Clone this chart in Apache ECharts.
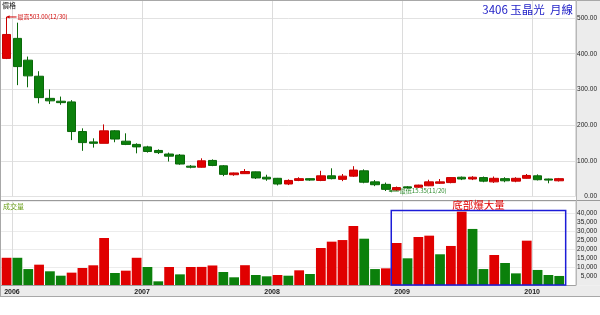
<!DOCTYPE html>
<html><head><meta charset="utf-8">
<script src="https://cdn.jsdelivr.net/npm/echarts@6/dist/echarts.min.js"></script>
<style>html,body{margin:0;padding:0;background:#fff}#c{width:600px;height:315px}</style>
</head><body><div id="c"></div>
<script>
// ---- data (monthly, Dec 2005 .. Mar 2010) ----
const months = ['2005/12',
  '2006/01','2006/02','2006/03','2006/04','2006/05','2006/06','2006/07','2006/08','2006/09','2006/10','2006/11','2006/12',
  '2007/01','2007/02','2007/03','2007/04','2007/05','2007/06','2007/07','2007/08','2007/09','2007/10','2007/11','2007/12',
  '2008/01','2008/02','2008/03','2008/04','2008/05','2008/06','2008/07','2008/08','2008/09','2008/10','2008/11','2008/12',
  '2009/01','2009/02','2009/03','2009/04','2009/05','2009/06','2009/07','2009/08','2009/09','2009/10','2009/11','2009/12',
  '2010/01','2010/02','2010/03'];
const emptySlots = ['2010/04'];
const openP  = [387,443,382,337,275,267,265,182,153,149,184,155,146,139,129,119,116,85,82,101,86,61,64,69,54,51,35,45,50,45,58,48,57,72,41,34,18,27,26,30,37,39,54,49,53,41,50,43,51,58,49,44];
const closeP = [454,364,338,277,268,263,182,151,149,184,161,146,139,126,123,113,91,82,100,87,62,66,70,52,49,35,45,50,46,58,50,57,74,40,33,20,25,24,32,41,41,53,49,54,43,51,44,51,59,47,46,50];
const lowP   = [385,312,306,261,259,257,158,128,137,149,152,144,121,123,119,98,89,79,81,85,57,58,63,49,44,31,32,43,44,43,48,43,55,37,29,15.35,15.4,22,24,29,35,37,46,46,40,38,40,40,50,45,37,42];
const highP  = [503,487,392,351,300,280,270,191,163,202,186,177,149,142,132,123,119,88,107,104,88,67,77,70,61,52,48,54,51,72,79,63,85,76,46,39,28,29,33,47,49,54,56,57,56,56,54,54,63,62,50,52];
const volumes = [15200,15200,8900,11350,7650,5200,6900,9500,11000,26250,6700,8000,15200,10050,2050,10050,5950,10050,10100,10900,7250,4300,11050,5600,4850,5600,5200,8200,6150,20650,24200,25100,32950,25850,8900,9300,23450,14900,26800,27550,17150,21800,40950,31300,8900,16750,12300,6500,24750,8400,5600,5050];
const volUp = [1,0,0,1,0,0,1,1,1,1,0,1,1,0,0,1,0,1,1,1,0,0,1,0,0,1,0,1,0,1,1,1,1,0,0,1,1,0,1,1,0,1,1,0,0,1,0,0,1,0,0,0];
const priceTicks = [0,100,200,300,400,500];
const volTicks = [5000,10000,15000,20000,25000,30000,35000,40000];
const titleText = '3406 玉晶光  月線';
const priceLabel = '價格';
const volLabel = '成交量';
const highNote = { idx: 0, value: 503, text: '最高503.00(12/30)' };
const lowNote  = { idx: 35, value: 15.35, text: '最低15.35(11/20)' };
const boxNote  = { from: 36, to: 51, top: 41600, text: '底部爆大量' };

// ---- chart ----
const RED = '#e00000', GREEN = '#0b800b';
const FONT = '"Noto Sans CJK TC", "Liberation Sans", sans-serif';
const axisCats = months.concat(emptySlots);
const candleData = months.map((m, i) => [openP[i], closeP[i], lowP[i], highP[i]]);
const volData = volumes.map((v, i) => ({ value: v, itemStyle: { color: volUp[i] ? RED : GREEN } }));
const isJan = (idx, val) => /\/01$/.test(val);
const GW = 575.3;
const band = GW / axisCats.length;

const chart = echarts.init(document.getElementById('c'), null, { renderer: 'canvas' });
chart.setOption({
  animation: false,
  backgroundColor: '#ffffff',
  grid: [
    { left: 1.15, top: 0.2, width: GW, height: 196.3 },
    { left: 1.15, top: 201, width: GW, height: 84 }
  ],
  xAxis: [
    { type: 'category', gridIndex: 0, data: axisCats, boundaryGap: true,
      axisLine: { show: false }, axisTick: { show: false }, axisLabel: { show: false },
      splitLine: { show: true, interval: isJan, lineStyle: { color: '#dcdcdc', width: 1 } } },
    { type: 'category', gridIndex: 1, data: axisCats, boundaryGap: true,
      axisLine: { show: true, lineStyle: { color: '#a0a0a0' } }, axisTick: { show: false },
      axisLabel: { interval: isJan, formatter: v => v.slice(0, 4), fontSize: 7, fontWeight: 'bold',
        fontFamily: 'Liberation Sans', color: '#222', margin: 4, padding: [0, band, 0, 0] },
      splitLine: { show: true, interval: isJan, lineStyle: { color: '#dcdcdc', width: 1 } } }
  ],
  yAxis: [
    { type: 'value', gridIndex: 0, position: 'right', min: 0, max: 550, interval: 100,
      axisLine: { show: false }, axisTick: { show: false },
      splitLine: { show: true, lineStyle: { color: '#e2e2e2' } },
      axisLabel: { formatter: v => priceTicks.includes(v) ? v.toFixed(2) : '', fontSize: 6.5,
        fontFamily: 'Liberation Sans', color: '#222', align: 'right', margin: 21.5 } },
    { type: 'value', gridIndex: 1, position: 'right', min: 0, max: 46900, interval: 5000,
      axisLine: { show: false }, axisTick: { show: false }, splitLine: { show: false },
      axisLabel: { formatter: v => volTicks.includes(v) ? v.toLocaleString('en-US') : '', fontSize: 6.5,
        fontFamily: 'Liberation Sans', color: '#222', align: 'right', margin: 21.5 } },
    { type: 'value', gridIndex: 1, position: 'left', min: 0, max: 46900, interval: 10000,
      axisLine: { show: false }, axisTick: { show: false }, axisLabel: { show: false },
      splitLine: { show: true, lineStyle: { color: '#ececec' } } }
  ],
  series: [
    { type: 'candlestick', xAxisIndex: 0, yAxisIndex: 0, data: candleData, barWidth: 9,
      itemStyle: { color: RED, color0: GREEN, borderColor: '#c80000', borderColor0: '#0a680a', borderWidth: 1 } },
    { type: 'bar', xAxisIndex: 1, yAxisIndex: 1, data: volData, barWidth: '90%' }
  ]
});

// annotations positioned from data through the chart's own scales
const p = (g, x, y) => chart.convertToPixel({ gridIndex: g }, [x, y]);
const hi = p(0, months[highNote.idx], highNote.value);
const lo = p(0, months[lowNote.idx], lowNote.value);
const bl = p(1, months[boxNote.from], boxNote.top);
const br = p(1, months[boxNote.to], 0);
const boxL = bl[0] - band / 2, boxR = br[0] + band / 2 + 1;

function arrow(x, y, len, color) {
  return [
    { type: 'line', shape: { x1: x, y1: y, x2: x + len, y2: y }, style: { stroke: color, lineWidth: 1 }, z: 20 },
    { type: 'polygon', shape: { points: [[x, y], [x + 3, y - 1.6], [x + 3, y + 1.6]] }, style: { fill: color }, z: 20 }
  ];
}

const graphics = [
  // panel backgrounds
  { type: 'rect', shape: { x: 576.5, y: 0, width: 24, height: 285.5 }, style: { fill: '#ececec' }, z: -1 },
  { type: 'rect', shape: { x: 0, y: 285.5, width: 600, height: 11 }, style: { fill: '#ececec' }, z: -1 },
  // frame lines
  { type: 'line', shape: { x1: 0, y1: 0.5, x2: 600, y2: 0.5 }, style: { stroke: '#a8a8a8', lineWidth: 1 }, z: 10 },
  { type: 'line', shape: { x1: 0.5, y1: 0, x2: 0.5, y2: 296.5 }, style: { stroke: '#a8a8a8', lineWidth: 1 }, z: 10 },
  { type: 'line', shape: { x1: 0, y1: 200.5, x2: 600, y2: 200.5 }, style: { stroke: '#9a9a9a', lineWidth: 1 }, z: 10 },
  { type: 'line', shape: { x1: 0, y1: 296.5, x2: 600, y2: 296.5 }, style: { stroke: '#a8a8a8', lineWidth: 1 }, z: 10 },
  { type: 'line', shape: { x1: 576.5, y1: 0, x2: 576.5, y2: 285.5 }, style: { stroke: '#b8b8b8', lineWidth: 1 }, z: 10 },
  // panel captions
  { type: 'text', x: 2, y: 2, style: { text: priceLabel, font: '7px ' + FONT, fill: '#222' }, z: 20 },
  { type: 'text', x: 3, y: 202.5, style: { text: volLabel, font: '7px ' + FONT, fill: '#6a9f1a' }, z: 20 },
  // title
  { type: 'text', x: 573, y: 10, style: { text: titleText, font: '11.5px ' + FONT, fill: '#2424c8', align: 'right', verticalAlign: 'middle' }, z: 20 },
  // high / low notes
  ...arrow(hi[0], hi[1], 10, '#d00000'),
  { type: 'text', x: hi[0] + 11, y: hi[1], style: { text: highNote.text, font: '6px ' + FONT, fill: '#d00000', verticalAlign: 'middle' }, z: 20 },
  ...arrow(lo[0] + 3, lo[1], 10, '#2a8a2a'),
  { type: 'text', x: lo[0] + 14, y: lo[1], style: { text: lowNote.text, font: '6px ' + FONT, fill: '#2a8a2a', verticalAlign: 'middle' }, z: 20 },
  // box
  { type: 'rect', shape: { x: boxL, y: bl[1], width: boxR - boxL, height: br[1] - bl[1] }, style: { fill: null, stroke: '#1c1cd8', lineWidth: 1.5 }, z: 20 },
  { type: 'text', x: (boxL + boxR) / 2, y: bl[1] - 5, style: { text: boxNote.text, font: '10.5px ' + FONT, fill: '#e00000', align: 'center', verticalAlign: 'middle' }, z: 20 }
];
chart.setOption({ graphic: graphics });
</script>
</body></html>
